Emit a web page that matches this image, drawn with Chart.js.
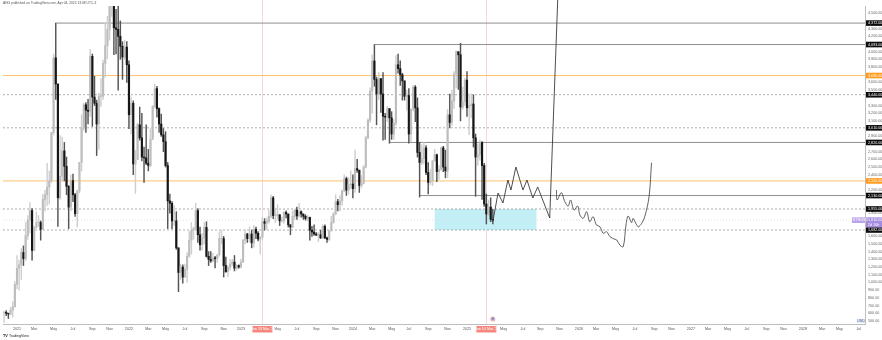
<!DOCTYPE html>
<html>
<head>
<meta charset="utf-8">
<script src="https://cdn.jsdelivr.net/npm/chart.js@4.4.1/dist/chart.umd.min.js"></script>
<style>
  html, body { margin: 0; padding: 0; background: #fff; }
  canvas { display: block; }
</style>
</head>
<body>
<canvas id="grafico" width="882" height="340"></canvas>
<script>
// ETHUSD weekly candles, first bar = week of 23 Nov 2020, last = week of 31 Mar 2025
const firstWeek = '2020-11-23';
const firstOpen = 609;

const highs = [
  622, 635, 602, 675, 750, 1010,
  1350, 1290, 1440, 1475, 1780, 1870, 2040, 1960, 1730, 1920, 1870, 1800, 2150, 2200, 2550, 2450, 2950, 3970, 4372, 3580,
  2910, 2890, 2820, 2630, 2260, 2400, 2410, 2160, 2200, 2560, 3180, 3330, 3340, 3380, 4030, 3970, 3680, 3370, 3460, 3650,
  3890, 4375, 4460, 4670, 4868, 4780, 4550, 4780, 4400, 4130, 4150, 4130,
  3880, 3410, 3360, 2720, 3070, 3280, 3200, 2760, 3050, 2730, 3000, 3300, 3580, 3550, 3270, 3190, 3000, 2960, 2560, 2150,
  2050, 2000, 1920, 1450, 1240, 1230, 1240, 1390, 1660, 1780, 1720, 2030, 1960, 1720, 1640, 1780, 1790, 1400, 1400, 1380,
  1340, 1350, 1660, 1680, 1600, 1330, 1220, 1300, 1300, 1350, 1230, 1230,
  1300, 1560, 1680, 1640, 1720, 1680, 1740, 1720, 1660, 1590, 1850, 1830, 1840, 1940, 2140, 2120, 1960, 2010, 1880, 1850,
  1920, 1930, 1890, 1750, 1930, 1950, 1980, 2030, 1930, 1890, 1880, 1870, 1850, 1730, 1750, 1650, 1650, 1680, 1750, 1750,
  1590, 1680, 1860, 1910, 2140, 2080, 2130, 2200, 2400, 2370, 2360, 2450,
  2400, 2720, 2600, 2460, 2390, 2520, 2900, 3130, 3530, 3960, 4093, 3670, 3730, 3650, 3730, 3200, 3290, 3260, 3220, 3120,
  3950, 3970, 3880, 3720, 3620, 3500, 3520, 3260, 3560, 3560, 3400, 2820, 2790, 2820, 2780, 2560, 2470, 2590, 2730, 2670,
  2520, 2760, 2770, 2720, 3250, 3450, 3500, 3740, 4010, 4000, 4109, 3540, 3650,
  3740, 3450, 3450, 3440, 2930, 2800, 2850, 2830, 2550, 2150, 2070, 2100, 1950
];
const lows = [
  480, 568, 532, 580, 550, 680,
  920, 900, 1040, 1220, 1280, 1560, 1640, 1290, 1410, 1700, 1725, 1550, 1690, 1930, 2000, 2020, 2300, 2920, 3380, 1730,
  2080, 2320, 2320, 2140, 1700, 1930, 2050, 1860, 1720, 2160, 2450, 2980, 2950, 3060, 3160, 3030, 3300, 2650, 2730, 3290,
  3380, 3670, 3910, 4150, 4460, 3960, 3970, 3500, 3900, 3640, 3900, 3600,
  3000, 2930, 2400, 2160, 2600, 2850, 2580, 2300, 2530, 2450, 2500, 2860, 3270, 3150, 2950, 2900, 2700, 2500, 1700, 1900,
  1700, 1740, 1430, 880, 1040, 990, 1070, 1000, 1330, 1370, 1560, 1680, 1520, 1420, 1420, 1500, 1330, 1220, 1260, 1270,
  1190, 1260, 1340, 1500, 1070, 1130, 1075, 1160, 1220, 1150, 1160, 1185,
  1190, 1260, 1500, 1520, 1530, 1450, 1460, 1570, 1540, 1370, 1560, 1680, 1690, 1770, 1840, 1830, 1780, 1820, 1740, 1780,
  1770, 1840, 1720, 1620, 1710, 1820, 1820, 1850, 1850, 1820, 1810, 1800, 1550, 1600, 1610, 1610, 1530, 1570, 1570, 1570,
  1520, 1540, 1670, 1770, 1880, 1930, 1930, 2000, 2180, 2130, 2150, 2220,
  2100, 2170, 2430, 2170, 2230, 2280, 2490, 2870, 3080, 3200, 3550, 3050, 3380, 3210, 2850, 2860, 3090, 2810, 2860, 2860,
  3040, 3720, 3560, 3370, 3370, 3240, 2810, 2830, 3230, 3090, 2630, 2110, 2530, 2540, 2400, 2150, 2270, 2260, 2580, 2310,
  2340, 2460, 2440, 2360, 2360, 3010, 3040, 3260, 3530, 3510, 3100, 3250, 3300,
  3160, 2920, 3140, 2760, 2120, 2520, 2590, 2080, 1990, 1760, 1870, 1790, 1760
];
const closes = [
  612, 598, 590, 640, 685, 975,
  1185, 1230, 1390, 1310, 1610, 1810, 1935, 1416, 1720, 1780, 1780, 1690, 2080, 2140, 2240, 2320, 2950, 3920, 3580, 2100,
  2380, 2710, 2510, 2250, 1980, 2325, 2140, 1895, 2190, 2560, 3010, 3310, 3240, 3225, 3940, 3410, 3330, 3060, 3420, 3420,
  3850, 4080, 4290, 4610, 4640, 4310, 4290, 4200, 4070, 3930, 4060, 3830,
  3180, 3330, 2540, 2600, 3050, 2880, 2630, 2620, 2550, 2520, 2860, 3290, 3520, 3260, 3060, 2920, 2830, 2520, 2060, 2030,
  1800, 1800, 1450, 1130, 1200, 1070, 1170, 1340, 1550, 1680, 1700, 1935, 1620, 1490, 1580, 1715, 1340, 1300, 1280, 1320,
  1310, 1360, 1570, 1570, 1220, 1140, 1195, 1240, 1265, 1185, 1220, 1200,
  1265, 1550, 1630, 1570, 1630, 1515, 1690, 1640, 1565, 1590, 1790, 1770, 1795, 1860, 2100, 1870, 1870, 1880, 1800, 1805,
  1910, 1890, 1750, 1720, 1860, 1940, 1865, 1920, 1890, 1860, 1830, 1845, 1680, 1655, 1630, 1615, 1620, 1580, 1730, 1580,
  1560, 1670, 1780, 1890, 2050, 2010, 2060, 2190, 2350, 2200, 2270, 2280,
  2220, 2480, 2460, 2260, 2290, 2500, 2880, 3110, 3490, 3880, 3640, 3450, 3650, 3450, 3160, 3150, 3260, 3140, 2930, 3070,
  3830, 3780, 3700, 3620, 3420, 3430, 2930, 3250, 3540, 3270, 2690, 2560, 2610, 2750, 2430, 2300, 2320, 2580, 2660, 2440,
  2470, 2750, 2500, 2450, 3180, 3080, 3360, 3710, 4000, 3960, 3280, 3350, 3630,
  3270, 3300, 3320, 2880, 2630, 2660, 2820, 2520, 2020, 1890, 1980, 1820, 1810
];

// drawn horizontal levels
const levelValues = [4372, 4093, 3690, 3440, 3010, 2820, 2320, 2130, 1955, 1810, 1682];
const levelStarts = ['2021-05-12', '2024-03-12', null, null, null, '2024-05-01', null, '2024-08-05', null, null, null];
const levelKinds  = ['solid', 'solid', 'orange', 'dotted', 'dotted', 'solid', 'orange', 'solid', 'dotted', 'price', 'dotted'];

// projection path drawn after the last candle
const pathDates  = ['2025-03-31', '2025-04-17', '2025-05-03', '2025-05-19', '2025-05-29', '2025-06-14', '2025-07-07',
                    '2025-07-20', '2025-08-08', '2025-08-24', '2025-10-02', '2025-10-28'];
const pathPrices = [1790, 2163, 2033, 2332, 2202, 2501, 2202, 2332, 2098, 2241, 1838, 4672];

// wavy projection
const waveDates = ['2025-10-24', '2025-10-26', '2025-11-09', '2025-11-20', '2025-12-01', '2025-12-09', '2025-12-20',
                   '2026-01-01', '2026-01-08', '2026-01-19', '2026-01-30', '2026-02-09', '2026-02-20', '2026-03-03',
                   '2026-03-14', '2026-03-25', '2026-04-05', '2026-04-16', '2026-05-02', '2026-05-08', '2026-05-18',
                   '2026-05-29', '2026-06-07', '2026-06-14', '2026-06-25', '2026-06-30', '2026-07-09', '2026-07-17',
                   '2026-07-28', '2026-08-07', '2026-08-21', '2026-08-29'];
const wavePrices = [2202, 2072, 2167, 2050, 1994, 2072, 1942, 1994, 1877, 1834, 1920, 1790, 1855, 1747,
                    1725, 1639, 1660, 1595, 1561, 1552, 1487, 1465, 1747, 1864, 1777, 1834, 1769, 1725,
                    1769, 1855, 2115, 2557];

// zone box and vertical date markers
const boxDates  = ['2024-09-23', '2025-08-20'];
const boxPrices = [1682, 1955];
const markerDates  = ['2023-03-13', '2025-03-10'];
const markerLabels = ["Mon 13 Mar '23", "Mon 10 Mar '25"];

const monthNames = ['Jan', 'Feb', 'Mar', 'Apr', 'May', 'Jun', 'Jul', 'Aug', 'Sep', 'Oct', 'Nov', 'Dec'];

const DAY = 86400000;
const ts = s => Date.parse(s + 'T00:00:00Z');
const weekTs = i => ts(firstWeek) + i * 7 * DAY;
const opens = closes.map((c, i) => i === 0 ? firstOpen : closes[i - 1]);
const fmt = v => v.toLocaleString('en-US', { minimumFractionDigits: 2, maximumFractionDigits: 2 });

// view window
const pxPerWeek = 2.153;
const xMin = ts('2021-01-04') - (14 / pxPerWeek) * 7 * DAY;
const xMax = xMin + (862 / pxPerWeek) * 7 * DAY;
const yMin = 460, yMax = 4594;

const upBody = '#bdbdbd', downBody = '#161616';
const upWick = '#cfcfcf', downWick = '#555555';
const isUp = closes.map((c, i) => c >= opens[i]);

const levelStyle = {
  solid:  { color: '#8f8f8f', dash: [], width: 1 },
  dotted: { color: '#999999', dash: [2, 2], width: 0.8 },
  orange: { color: '#ffc26b', dash: [], width: 1 },
  price:  { color: '#ddd6ef', dash: [1, 2], width: 0.8 }
};
const labelBg = { solid: '#0b0b0b', dotted: '#0b0b0b', orange: '#ff9a1a', price: '#a58be0' };

const levelSets = levelValues.map((v, i) => {
  const st = levelStyle[levelKinds[i]];
  return {
    type: 'line',
    data: [{ x: levelStarts[i] ? ts(levelStarts[i]) : xMin, y: v }, { x: xMax, y: v }],
    borderColor: st.color,
    borderWidth: st.width,
    borderDash: st.dash,
    pointRadius: 0,
    order: 5
  };
});

const drawings = {
  id: 'drawings',
  beforeDatasetsDraw(chart) {
    const { ctx, chartArea: a, scales: { x, y } } = chart;
    ctx.save();
    ctx.strokeStyle = '#fbd6d6';
    ctx.lineWidth = 1;
    markerDates.forEach(d => {
      const px = Math.round(x.getPixelForValue(ts(d))) + 0.5;
      ctx.beginPath(); ctx.moveTo(px, 0); ctx.lineTo(px, a.bottom); ctx.stroke();
    });
    const bx0 = x.getPixelForValue(ts(boxDates[0])), bx1 = x.getPixelForValue(ts(boxDates[1]));
    const by0 = y.getPixelForValue(boxPrices[1]), by1 = y.getPixelForValue(boxPrices[0]);
    ctx.fillStyle = '#c2eef5';
    ctx.fillRect(bx0, by0, bx1 - bx0, by1 - by0);
    ctx.restore();
  },
  afterDraw(chart) {
    const { ctx, chartArea: a, scales: { x, y } } = chart;
    ctx.save();
    ctx.font = '3.7px "Liberation Sans", Arial, sans-serif';
    ctx.textBaseline = 'middle';
    // price labels on the axis
    levelValues.forEach((v, i) => {
      const py = y.getPixelForValue(v);
      ctx.fillStyle = labelBg[levelKinds[i]];
      ctx.fillRect(a.right + 1, py - 2.8, 16, 5.6);
      ctx.fillStyle = '#fff';
      ctx.textAlign = 'left';
      ctx.fillText(fmt(v), a.right + 3, py + 0.2);
    });
    // symbol tag next to the last price
    const pp = y.getPixelForValue(levelValues[9]);
    ctx.fillStyle = '#b9a4e8';
    ctx.fillRect(a.right - 13, pp - 2.8, 13, 5.6);
    ctx.fillStyle = '#fff';
    ctx.fillText('ETHUSD', a.right - 12, pp + 0.2);
    ctx.fillStyle = '#a58be0';
    ctx.fillRect(a.right + 1, pp + 2.8, 16, 4.5);
    ctx.fillStyle = '#fff';
    ctx.fillText('2d 10h', a.right + 3, pp + 5);
    // date markers on the time axis
    markerDates.forEach((d, i) => {
      const px = x.getPixelForValue(ts(d));
      ctx.fillStyle = '#f4877e';
      ctx.fillRect(px - 10, a.bottom + 2, 20, 6.5);
      ctx.fillStyle = '#fff';
      ctx.textAlign = 'center';
      ctx.fillText(markerLabels[i], px, a.bottom + 5.3);
    });
    // event flag above the axis
    const ex = x.getPixelForValue(weekTs(closes.length - 1));
    ctx.fillStyle = '#f2b3b3';
    ctx.beginPath(); ctx.arc(ex, a.bottom - 5, 2.6, 0, Math.PI * 2); ctx.fill();
    ctx.fillStyle = '#5d8fe0';
    ctx.fillRect(ex - 1.2, a.bottom - 6.4, 2.4, 2);
    // currency badge
    ctx.fillStyle = '#dfe8f6';
    ctx.fillRect(a.right - 8, a.bottom - 5, 8, 4);
    ctx.fillStyle = '#5a6b85';
    ctx.textAlign = 'center';
    ctx.fillText('USD', a.right - 4, a.bottom - 3);
    // header and logo
    ctx.textAlign = 'left';
    ctx.fillStyle = '#555';
    ctx.font = '3.3px "Liberation Sans", Arial, sans-serif';
    ctx.fillText('ANG published on TradingView.com, Apr 04, 2025 13:08 UTC-3', 3, 3.2);
    ctx.fillStyle = '#222';
    ctx.font = 'bold 3.8px "Liberation Sans", Arial, sans-serif';
    ctx.fillText('TV', 3, 336);
    ctx.font = '3.6px "Liberation Sans", Arial, sans-serif';
    ctx.fillText('TradingView', 9, 336);
    ctx.restore();
  }
};

const ctx = document.getElementById('grafico').getContext('2d');
const grafico = new Chart(ctx, {
  type: 'bar',
  data: {
    datasets: [
      {
        label: 'wicks',
        data: closes.map((c, i) => ({
          x: weekTs(i),
          y: [Math.min(lows[i], opens[i], c), Math.max(highs[i], opens[i], c)]
        })),
        backgroundColor: isUp.map(u => u ? upWick : downWick),
        barThickness: 0.8,
        grouped: false,
        order: 3
      },
      {
        label: 'bodies',
        data: closes.map((c, i) => ({ x: weekTs(i), y: [opens[i], c] })),
        backgroundColor: isUp.map(u => u ? upBody : downBody),
        barThickness: 1.5,
        minBarLength: 0.6,
        grouped: false,
        order: 2
      },
      ...levelSets,
      {
        type: 'line',
        label: 'path',
        data: pathDates.map((d, i) => ({ x: ts(d), y: pathPrices[i] })),
        borderColor: '#3a3a3a',
        borderWidth: 0.9,
        pointRadius: 0,
        clip: { left: 0, top: 6, right: 0, bottom: 0 },
        order: 1
      },
      {
        type: 'line',
        label: 'wave',
        data: waveDates.map((d, i) => ({ x: ts(d), y: wavePrices[i] })),
        borderColor: '#3a3a3a',
        borderWidth: 0.8,
        tension: 0.35,
        pointRadius: 0,
        order: 1
      }
    ]
  },
  plugins: [drawings],
  options: {
    responsive: false,
    animation: false,
    devicePixelRatio: 1,
    layout: { padding: { left: 3, top: 6, right: 0, bottom: 0 } },
    plugins: {
      legend: { display: false },
      tooltip: { enabled: false },
      title: { display: false }
    },
    scales: {
      x: {
        type: 'linear',
        offset: false,
        min: xMin,
        max: xMax,
        grid: { display: false, drawTicks: false },
        border: { color: '#bdbdbd' },
        afterBuildTicks: scale => {
          const list = [];
          for (let yr = 2020; yr <= 2028; yr++) {
            for (let m = 0; m < 12; m += 2) {
              const d = new Date(Date.UTC(yr, m, 1));
              while (d.getUTCDay() !== 1) d.setUTCDate(d.getUTCDate() + 1);
              const v = d.getTime();
              if (v >= xMin && v <= xMax) list.push({ value: v });
            }
          }
          scale.ticks = list;
        },
        afterFit: scale => { scale.height = 16; },
        ticks: {
          autoSkip: false,
          maxRotation: 0,
          padding: 3,
          color: '#555',
          font: { size: 3.7, family: '"Liberation Sans", Arial, sans-serif' },
          callback: v => {
            const d = new Date(v);
            return d.getUTCMonth() === 0 ? String(d.getUTCFullYear()) : monthNames[d.getUTCMonth()];
          }
        }
      },
      y: {
        position: 'right',
        min: yMin,
        max: yMax,
        grid: { display: false, drawTicks: false },
        border: { color: '#bdbdbd' },
        afterFit: scale => { scale.width = 17; },
        ticks: {
          stepSize: 100,
          includeBounds: false,
          padding: 3,
          color: '#666',
          font: { size: 3.7, family: '"Liberation Sans", Arial, sans-serif' },
          callback: v => levelValues.some(l => Math.abs(l - v) < 55) ? '' : fmt(v)
        }
      }
    }
  }
});
</script>
</body>
</html>
